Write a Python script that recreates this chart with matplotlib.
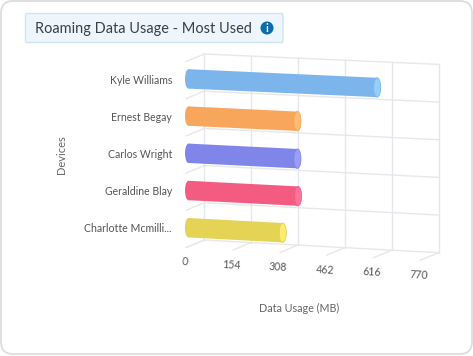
import numpy as np
import matplotlib
matplotlib.use('Agg')
import matplotlib.pyplot as plt
from matplotlib.patches import FancyBboxPatch, Polygon, Ellipse, Circle
from matplotlib.transforms import Transform, Affine2D

plt.rcParams['font.family'] = ['Lato', 'DejaVu Sans']

# data
devices = ['Kyle Williams', 'Ernest Begay', 'Carlos Wright', 'Geraldine Blay', 'Charlotte Mcmilli...']
usage = [620, 358, 358, 360, 310]
x_ticks = [0, 154, 308, 462, 616, 770]
bar_colors = ['#7cb5ec', '#f9a65d', '#8085e9', '#f45b80', '#e4d354']
cap_colors = ['#95ceff', '#ffbc75', '#999eff', '#ff7599', '#fdec6d']


# back wall of the 3D box: value, category slot -> pixels, slightly in perspective
class Wall(Transform):
    input_dims = 2
    output_dims = 2

    def transform_non_affine(self, values):
        v, c = values[:, 0], values[:, 1]
        px = 204.2 + v * 234.3 / 770
        top = 54 + v * 10.4 / 770
        bottom = 240 + v * 12.7 / 770
        return np.column_stack([px, top + (bottom - top) * c / 5])


fig = plt.figure(figsize=(4.73, 3.56), dpi=100)
ax = fig.add_axes([0, 0, 1, 1])
ax.set_xlim(0, 473)
ax.set_ylim(356, 0)
ax.axis('off')

wall = Wall() + ax.transData
bar_tr = Wall() + Affine2D().translate(-15.7, 6.3)

# card and title box
ax.add_patch(FancyBboxPatch((1, 1), 471, 353, boxstyle='round,pad=0,rounding_size=12',
                            fc='white', ec='#dddddd', lw=1.3))
ax.add_patch(FancyBboxPatch((25.5, 13.5), 257.5, 29, boxstyle='round,pad=0,rounding_size=2',
                            fc='#eef6fd', ec='#cfe3f5', lw=1))
ax.text(34.5, 28.5, 'Roaming Data Usage - Most Used', fontsize=10.45, color='#3a3f44', va='center')
ax.add_patch(Circle((267, 28), 6.5, fc='#0a6ea8', ec='none'))
ax.text(267, 28, 'i', fontsize=8, color='white', ha='center', va='center', fontweight='bold')

# grid
for t in x_ticks:
    ax.plot([t, t], [0, 5], color='#e4e7ed', lw=1, transform=wall, zorder=2)
    q0 = Wall().transform(np.array([[t, 5]], float))[0]
    ax.plot([q0[0], q0[0] - 18], [q0[1], q0[1] + 7.5], color='#e8e8e8', lw=1, zorder=2)
for c in range(6):
    ax.plot([0, 770], [c, c], color='#e8e8e8', lw=1, transform=wall, zorder=2)
    q0 = Wall().transform(np.array([[0, c]], float))[0]
    ax.plot([q0[0], q0[0] - 18], [q0[1], q0[1] + 7.5], color='#e8e8e8', lw=1, zorder=2)

# cylinders
half = 9.7
for i, (name, val) in enumerate(zip(devices, usage)):
    a, b = bar_tr.transform(np.array([[0, i + 0.5], [val, i + 0.5]], float))
    ax.add_patch(Polygon([[a[0], a[1] - half], [b[0], b[1] - half], [b[0], b[1] + half], [a[0], a[1] + half]],
                         fc=bar_colors[i], ec='none', zorder=3))
    ax.add_patch(Ellipse(a, 7, 2 * half, fc=bar_colors[i], ec='none', zorder=3))
    ax.add_patch(Ellipse(b, 7, 2 * half, fc=cap_colors[i], ec=bar_colors[i], lw=0.6, zorder=4))
    ax.text(172, 80 + i * 37.1, name, fontsize=7.6, color='#555555', ha='right', va='center')

# value labels
for t in x_ticks:
    q0 = Wall().transform(np.array([[t, 5]], float))[0]
    ax.text(q0[0] - 19.6, q0[1] + 22, str(t), fontsize=7.6, color='#555555', ha='center', va='center',
            rotation=-3, rotation_mode='anchor')

ax.text(61, 155, 'Devices', fontsize=8, color='#666666', rotation=90, ha='center', va='center')
ax.text(299, 308.5, 'Data Usage (MB)', fontsize=7.75, color='#666666', ha='center', va='center')

fig.savefig('out.png', dpi=100)
